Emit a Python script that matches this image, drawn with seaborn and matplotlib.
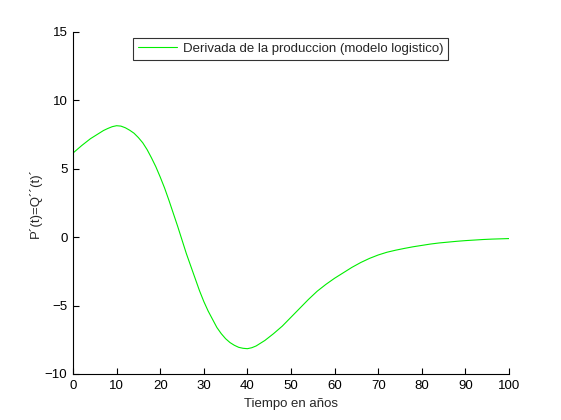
import matplotlib
matplotlib.use("Agg")
import matplotlib.pyplot as plt
import seaborn as sns
import pandas as pd

years = [0, 2, 4, 6, 7, 8, 9, 10, 11, 12, 13, 14, 15, 16, 17, 18, 19, 20, 21, 22,
         23, 24, 25, 26, 27, 28, 29, 30, 31, 32, 33, 34, 35, 36, 37, 38, 39, 40, 41,
         42, 44, 46, 48, 50, 52, 54, 56, 58, 60, 62, 64, 66, 68, 70, 72, 74, 76,
         78, 80, 82, 84, 86, 88, 90, 92, 94, 96, 98, 100]
derivada = [6.15, 6.7, 7.2, 7.6, 7.8, 7.95, 8.08, 8.15, 8.12, 8.0, 7.82, 7.6, 7.28,
            6.9, 6.4, 5.8, 5.15, 4.4, 3.6, 2.7, 1.75, 0.8, -0.2, -1.2, -2.1, -3.0,
            -3.9, -4.7, -5.4, -6.0, -6.6, -7.05, -7.42, -7.7, -7.9, -8.05, -8.12,
            -8.15, -8.08, -7.95, -7.55, -7.05, -6.5, -5.85, -5.2, -4.55, -3.95,
            -3.45, -3.0, -2.6, -2.2, -1.85, -1.55, -1.3, -1.1, -0.95, -0.82, -0.7,
            -0.6, -0.5, -0.42, -0.36, -0.3, -0.25, -0.21, -0.17, -0.14, -0.12, -0.1]
xticks = [0, 10, 20, 30, 40, 50, 60, 70, 80, 90, 100]
yticks = [-10, -5, 0, 5, 10, 15]
series_name = "Derivada de la produccion (modelo logistico)"

df = pd.DataFrame({"t": years, "v": derivada})

sns.set_style("white")
plt.rcParams["font.family"] = ["Liberation Sans", "DejaVu Sans"]

fig = plt.figure(figsize=(5.61, 4.2), dpi=100)
ax = fig.add_axes([73 / 561, 46 / 420, 436 / 561, 342 / 420])
sns.lineplot(data=df, x="t", y="v", ax=ax, color="#00ee00", linewidth=0.8,
             label=series_name)

ax.set_xlim(0, 100)
ax.set_ylim(-10, 15)
ax.set_xticks(xticks)
ax.set_yticks(yticks)
ax.tick_params(direction="in", length=4, width=0.8, labelsize=9.5, pad=4,
               bottom=True, left=True, colors="black")
for s in ["top", "right"]:
    ax.spines[s].set_visible(False)
for s in ["left", "bottom"]:
    ax.spines[s].set_color("black")
    ax.spines[s].set_linewidth(0.8)
ax.set_xlabel("Tiempo en años", fontsize=9.5, labelpad=5)
ax.set_ylabel("P´(t)=Q´´(t)´", fontsize=9.5, labelpad=2)

leg = ax.legend(loc="center", bbox_to_anchor=(290.5 / 561, 1 - 49 / 420),
                bbox_transform=fig.transFigure, frameon=True, fancybox=False,
                fontsize=9.5, handlelength=3.0, borderpad=0.35, handletextpad=0.4)
leg.get_frame().set_edgecolor("black")
leg.get_frame().set_linewidth(0.8)

fig.savefig("out.png", dpi=100, facecolor="white")
